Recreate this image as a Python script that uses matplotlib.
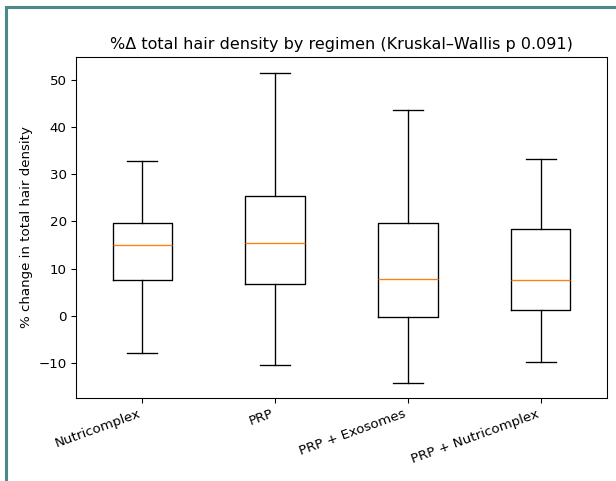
import matplotlib
matplotlib.use("Agg")
import matplotlib.pyplot as plt
from matplotlib.patches import Rectangle

regimens = ["Nutricomplex", "PRP", "PRP + Exosomes", "PRP + Nutricomplex"]
whislo = [-7.8, -10.5, -14.1, -9.8]
q1 = [7.5, 6.8, -0.3, 1.3]
med = [14.9, 15.5, 7.8, 7.6]
q3 = [19.7, 25.4, 19.6, 18.3]
whishi = [32.8, 51.5, 43.6, 33.3]

stats = [
    {"label": lab, "whislo": lo, "q1": a, "med": m, "q3": b, "whishi": hi, "fliers": []}
    for lab, lo, a, m, b, hi in zip(regimens, whislo, q1, med, q3, whishi)
]

W, H = 616, 481
fig = plt.figure(figsize=(W / 96, H / 96), dpi=96)
ax = fig.add_axes([76 / W, 1 - 398 / H, (607 - 76) / W, (398 - 57) / H])
ax.bxp(stats, widths=0.45)
ax.set_title("%Δ total hair density by regimen (Kruskal–Wallis p 0.091)")
ax.set_ylabel("% change in total hair density")
plt.setp(ax.get_xticklabels(), rotation=20, ha="right")

# frame around the figure
fig.patches.append(Rectangle((5.5 / W, -0.1), 1.2, 1 - 6.5 / H + 0.1,
                             transform=fig.transFigure, fill=False,
                             edgecolor="#4a8a8a", linewidth=2.3))

fig.savefig("out.png", dpi=96)
